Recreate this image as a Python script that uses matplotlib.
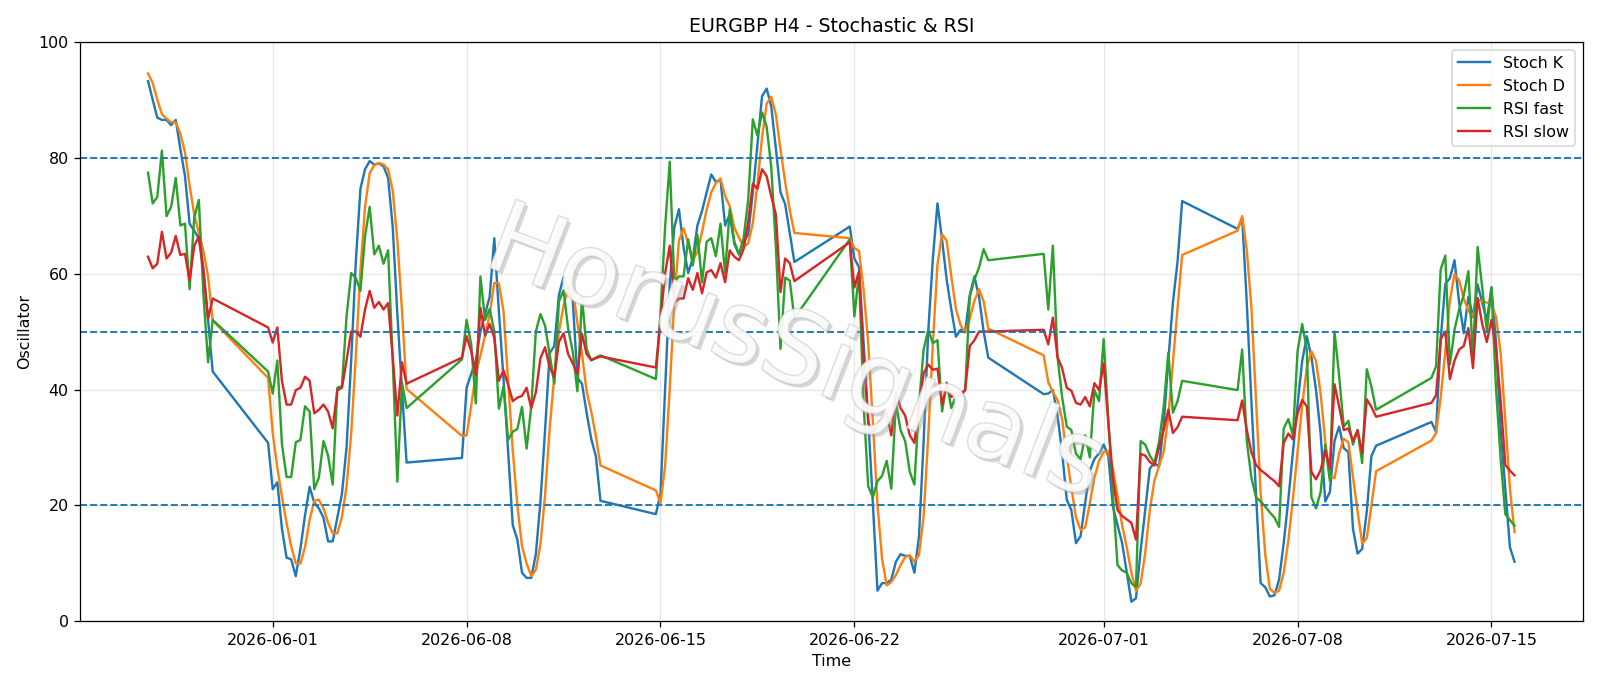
import matplotlib
matplotlib.use("Agg")
import matplotlib.pyplot as plt
import matplotlib.patheffects as pe
import pandas as pd

# trading sessions (H4 bars, Sun 20:00 .. Fri 20:00)
sessions = [("2026-05-27 12:00", "2026-05-29 20:00"),
            ("2026-05-31 20:00", "2026-06-05 20:00"),
            ("2026-06-07 20:00", "2026-06-12 20:00"),
            ("2026-06-14 20:00", "2026-06-19 20:00"),
            ("2026-06-21 20:00", "2026-06-26 20:00"),
            ("2026-06-28 20:00", "2026-07-03 20:00"),
            ("2026-07-05 20:00", "2026-07-10 20:00"),
            ("2026-07-12 20:00", "2026-07-15 20:00")]

stoch_k = [
    93.2, 90.0, 86.9, 86.5, 86.5, 85.6, 86.5, 81.5, 76.8, 68.6, 67.4, 66.1, 61.0, 52.0, 43.1,
    30.8, 22.8, 24.0, 16.0, 11.0, 10.7, 7.8, 12.5, 18.3, 23.2, 20.5, 19.5, 17.9, 13.8, 13.8, 17.9,
    22.0, 30.0, 45.0, 62.0, 74.6, 78.0, 79.4, 78.8, 79.0, 78.5, 76.5, 68.0, 53.0, 40.0, 27.4,
    28.2, 40.3, 42.7, 45.0, 50.0, 53.0, 56.0, 66.1, 53.4, 41.8, 29.1, 16.6, 14.1, 8.4, 7.5, 7.5,
    11.6, 20.7, 33.0, 46.3, 47.5, 56.3, 59.4, 57.0, 55.4, 42.0, 41.0, 36.0, 31.5, 28.5, 20.8,
    18.5, 22.0, 40.0, 58.0, 68.0, 71.1, 64.5, 60.1, 62.6, 68.3, 70.8, 74.0, 77.1, 75.8, 76.2, 68.3,
    70.2, 65.1, 63.3, 65.5, 66.7, 74.0, 82.2, 90.6, 91.9, 88.8, 81.5, 74.0, 72.0, 67.0, 62.0,
    68.1, 62.6, 61.1, 48.0, 35.0, 20.4, 5.3, 6.6, 6.6, 7.2, 10.3, 11.6, 11.3, 11.3, 8.4, 14.7,
    31.1, 50.0, 62.6, 72.1, 65.8, 58.9, 53.8, 49.1, 50.3, 50.0, 56.3, 59.5, 56.0, 50.0, 45.5,
    39.2, 39.3, 39.9, 35.5, 29.2, 21.0, 19.2, 13.5, 14.7, 20.5, 26.0, 28.0, 29.0, 30.5, 28.6, 19.8,
    16.6, 13.5, 8.4, 3.4, 4.0, 12.2, 19.2, 26.4, 27.3, 26.7, 34.0, 45.0, 55.0, 62.0, 72.5,
    67.7, 69.6, 55.0, 38.0, 22.0, 6.6, 5.9, 4.3, 4.5, 7.2, 13.5, 21.0, 29.2, 37.4, 44.9, 49.2,
    45.6, 39.9, 32.4, 20.7, 22.3, 31.1, 33.6, 29.9, 29.2, 16.0, 11.7, 12.5, 19.0, 28.5, 30.3,
    34.4, 32.7, 48.7, 58.2, 59.2, 62.3, 55.0, 49.7, 56.0, 52.5, 58.1, 55.0, 51.9, 57.6, 48.0,
    33.0, 23.0, 12.8, 10.3,
]

stoch_d = [
    94.5, 92.9, 90.0, 87.5, 86.7, 86.1, 86.1, 84.1, 80.9, 75.2, 70.2, 67.0, 63.9, 59.5, 51.9,
    42.0, 32.5, 26.5, 21.5, 17.0, 13.0, 10.0, 10.0, 12.8, 17.5, 20.8, 21.0, 19.5, 17.0, 15.2, 15.2,
    18.0, 23.3, 32.3, 45.7, 60.5, 71.5, 77.3, 78.7, 79.1, 78.8, 78.0, 74.3, 65.8, 53.7, 40.1,
    32.0, 32.1, 37.2, 42.7, 45.9, 49.3, 53.0, 58.4, 58.3, 53.5, 41.4, 29.5, 20.0, 13.0, 10.0, 7.8,
    8.9, 13.3, 21.8, 33.3, 42.3, 50.0, 54.4, 57.6, 57.3, 51.5, 46.1, 39.7, 36.2, 32.0, 26.9,
    22.6, 20.4, 26.8, 40.0, 55.3, 65.7, 67.8, 65.2, 62.4, 63.7, 67.2, 71.0, 74.0, 75.6, 76.4, 73.4,
    71.6, 67.9, 66.2, 64.6, 65.2, 68.7, 75.5, 83.5, 89.3, 90.5, 87.4, 81.4, 75.8, 71.0, 67.0,
    66.1, 64.4, 63.9, 57.2, 48.0, 34.5, 20.2, 10.8, 6.2, 6.8, 8.0, 9.7, 11.1, 11.4, 10.3, 11.5,
    18.1, 31.9, 47.9, 61.6, 66.8, 65.6, 59.5, 53.9, 51.1, 49.8, 52.2, 55.3, 57.3, 55.2, 50.5,
    45.9, 41.3, 39.5, 38.2, 34.9, 28.6, 23.1, 17.9, 15.8, 16.2, 20.4, 24.8, 27.7, 29.2, 29.4, 26.3,
    21.7, 16.6, 12.8, 8.4, 5.3, 6.5, 11.8, 19.3, 24.3, 26.8, 29.3, 35.3, 44.7, 54.0, 63.2,
    67.4, 69.9, 64.1, 54.2, 38.3, 22.2, 11.5, 5.6, 4.9, 5.3, 8.4, 13.9, 21.2, 29.2, 37.2, 43.8,
    46.6, 44.9, 39.3, 31.0, 25.1, 24.7, 29.0, 31.5, 30.9, 25.0, 19.0, 13.4, 14.4, 20.0, 25.9,
    31.2, 32.5, 38.6, 46.5, 55.4, 59.9, 58.8, 55.7, 53.6, 52.7, 55.5, 55.2, 55.0, 54.8, 52.5,
    46.2, 34.7, 22.9, 15.4,
]

rsi_fast = [
    77.4, 72.1, 73.2, 81.2, 69.9, 71.5, 76.5, 68.3, 68.6, 57.3, 69.6, 72.7, 56.3, 44.7, 52.0,
    43.1, 39.3, 45.0, 30.6, 24.9, 24.9, 30.9, 31.3, 37.1, 36.2, 22.8, 24.8, 31.1, 28.6, 23.6, 40.3,
    40.6, 52.6, 60.1, 59.2, 57.0, 66.4, 71.5, 63.3, 64.8, 61.7, 64.0, 45.0, 24.1, 41.2, 36.8,
    45.2, 52.0, 47.8, 37.6, 59.5, 52.0, 53.9, 50.0, 36.7, 40.5, 31.3, 32.7, 33.2, 37.0, 29.8, 37.0,
    50.0, 53.0, 51.0, 46.0, 41.0, 55.2, 57.1, 50.5, 46.5, 39.7, 55.9, 47.0, 45.0, 45.5, 45.9,
    41.8, 53.0, 68.0, 79.3, 58.5, 59.5, 59.5, 65.9, 61.4, 66.7, 58.5, 65.5, 66.1, 63.0, 68.6, 60.1,
    71.1, 65.5, 63.3, 66.1, 72.7, 86.6, 83.8, 87.8, 85.3, 78.3, 64.5, 47.0, 59.3, 58.8, 52.3,
    65.9, 52.6, 60.1, 37.4, 23.3, 21.4, 24.2, 25.1, 27.7, 22.9, 37.7, 33.0, 31.1, 25.8, 23.6, 37.4,
    46.9, 50.3, 48.0, 48.5, 36.2, 41.2, 36.8, 39.0, 38.8, 39.9, 56.0, 59.0, 61.0, 64.2, 62.3,
    63.4, 53.8, 64.8, 45.6, 38.7, 33.6, 33.0, 28.9, 28.0, 32.1, 28.3, 39.9, 38.0, 48.7, 34.9, 21.7,
    9.7, 8.8, 8.4, 6.6, 5.9, 31.1, 30.5, 28.6, 27.3, 31.0, 37.0, 46.3, 36.0, 38.0, 41.5,
    39.9, 46.9, 31.1, 24.8, 21.4, 20.7, 19.8, 18.8, 17.9, 16.3, 33.3, 34.9, 32.1, 46.6, 51.3, 46.9,
    21.4, 19.5, 22.3, 30.5, 24.2, 50.0, 42.4, 33.6, 34.6, 30.5, 33.0, 27.3, 43.5, 40.5, 36.5,
    42.0, 44.0, 60.7, 63.1, 44.3, 50.3, 53.8, 56.3, 60.4, 45.6, 64.6, 57.6, 50.0, 57.6, 40.0,
    28.0, 18.5, 17.5, 16.5,
]

rsi_slow = [
    62.9, 60.9, 61.7, 67.2, 62.6, 63.6, 66.5, 63.2, 63.4, 58.8, 64.8, 66.4, 60.1, 52.2, 55.7,
    50.7, 48.1, 50.7, 41.5, 37.4, 37.4, 39.9, 40.3, 42.2, 41.5, 35.9, 36.5, 37.4, 36.2, 33.3, 39.9,
    40.3, 45.0, 50.0, 50.0, 49.1, 53.8, 57.0, 54.1, 55.1, 53.8, 54.9, 45.6, 35.5, 44.7, 41.0,
    45.5, 49.2, 46.6, 42.5, 54.1, 49.3, 51.3, 48.9, 41.5, 43.3, 40.8, 38.0, 38.6, 38.9, 40.3, 36.8,
    39.5, 45.4, 47.3, 43.8, 42.2, 48.2, 49.7, 46.1, 44.5, 42.7, 49.6, 46.1, 45.1, 45.4, 45.7,
    43.8, 52.0, 60.0, 64.8, 55.0, 55.7, 55.7, 59.2, 57.2, 60.1, 56.6, 60.2, 60.6, 59.3, 61.8, 58.5,
    64.0, 62.9, 62.3, 64.2, 68.9, 75.5, 74.6, 78.0, 76.8, 73.3, 70.2, 56.8, 62.6, 61.8, 58.7,
    65.4, 57.6, 60.4, 45.6, 34.3, 32.4, 34.0, 34.9, 35.9, 32.1, 39.6, 36.8, 35.5, 32.1, 30.8, 37.4,
    42.8, 44.3, 43.4, 43.6, 37.4, 40.6, 38.7, 39.4, 39.3, 39.9, 47.5, 48.5, 50.0, 50.0, 50.0,
    50.3, 47.8, 52.4, 45.6, 43.7, 40.3, 39.8, 37.7, 37.4, 38.7, 37.1, 41.1, 39.9, 44.5, 34.3, 24.8,
    19.2, 18.2, 17.6, 17.0, 14.1, 28.9, 28.6, 27.5, 26.9, 30.0, 33.0, 36.5, 32.5, 33.5, 35.3,
    34.7, 38.1, 33.0, 29.2, 27.0, 26.1, 25.5, 24.8, 24.2, 23.3, 30.8, 32.4, 31.4, 35.9, 38.2, 37.1,
    25.8, 24.5, 26.1, 29.5, 26.4, 40.9, 37.1, 33.0, 33.3, 31.1, 33.0, 29.0, 38.3, 37.0, 35.3,
    37.7, 39.0, 48.7, 50.0, 41.8, 45.0, 46.9, 47.5, 50.6, 43.7, 55.8, 51.3, 48.2, 52.0, 47.0,
    38.0, 27.0, 26.0, 25.2,
]

levels = [80, 50, 20]
watermark = "HorusSignals"

times = pd.DatetimeIndex(
    [t for s, e in sessions for t in pd.date_range(s, e, freq="4h")])

fig, ax = plt.subplots(figsize=(14, 6.0025), dpi=1600 / 14)
ax.plot(times, stoch_k, label="Stoch K", color="C0", lw=1.5)
ax.plot(times, stoch_d, label="Stoch D", color="C1", lw=1.5)
ax.plot(times, rsi_fast, label="RSI fast", color="C2", lw=1.5)
ax.plot(times, rsi_slow, label="RSI slow", color="C3", lw=1.5)
for lv in levels:
    ax.axhline(lv, ls="--", color="C0", lw=1.2)
ax.set_ylim(0, 100)
ax.grid(True, alpha=0.3)
ax.set_title("EURGBP H4 - Stochastic & RSI")
ax.set_xlabel("Time")
ax.set_ylabel("Oscillator")
ax.legend(loc="upper right")

fig.text(0.497, 0.482, watermark, fontsize=63, color="white", alpha=0.55,
         rotation=-21, ha="center", va="center", zorder=10,
         path_effects=[pe.withSimplePatchShadow(offset=(2, -2), shadow_rgbFace="#999999", alpha=0.4),
                       pe.Stroke(linewidth=1.2, foreground="#bdbdbd"), pe.Normal()])

fig.tight_layout()
fig.savefig("out.png", dpi=1600 / 14)
